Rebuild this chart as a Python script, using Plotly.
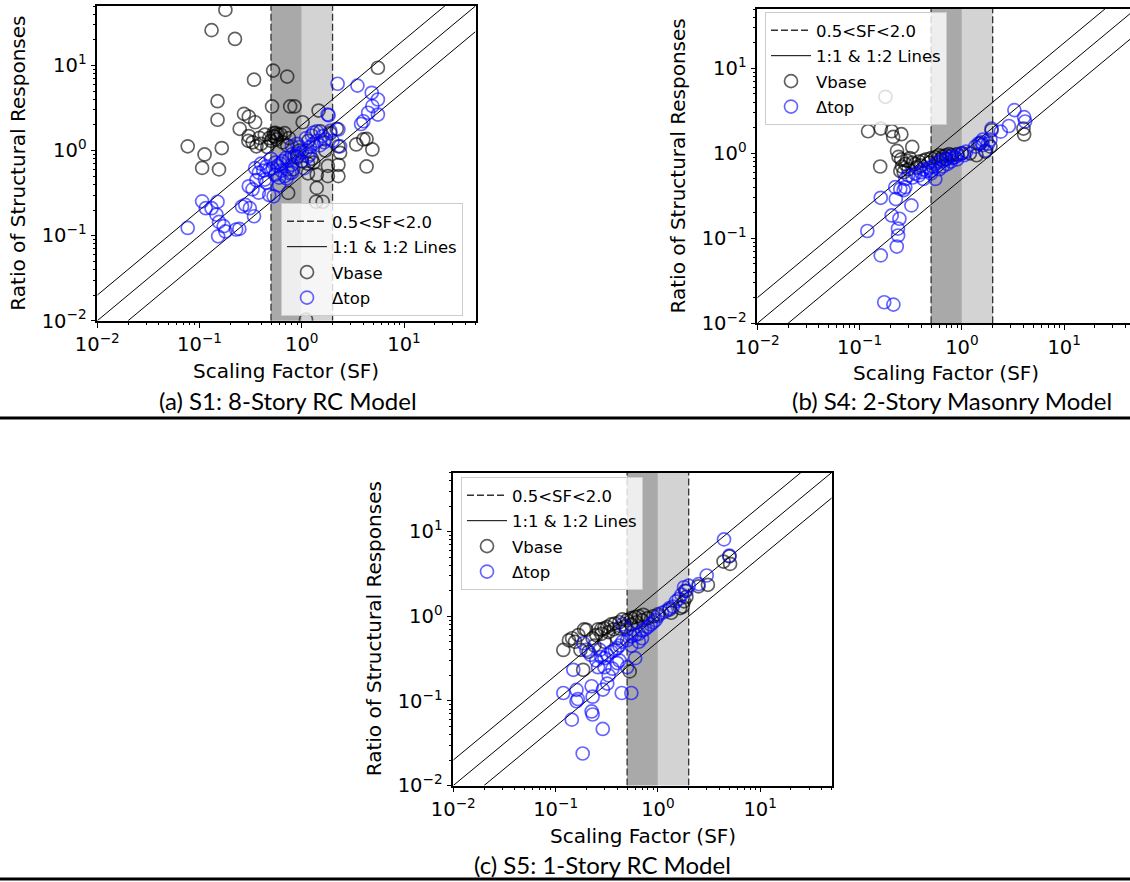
import math
import plotly.graph_objects as go

# ---------------- data ----------------
# Panel (a) S1: 8-Story RC Model
a_vbase_x = [0.179, 0.131, 0.222, 0.524, 0.341, 0.72, 5.55, 0.150, 0.150, 0.512, 0.77, 0.85, 1.46, 0.272, 0.303,
             0.35, 0.247, 1.02, 0.0766, 0.112, 0.106, 0.155, 0.165, 0.303, 0.385, 0.435, 0.53, 0.555, 0.57, 0.62,
             0.36, 0.33, 0.30, 0.50, 0.55, 0.53, 0.58, 0.48, 0.46, 0.40, 0.65, 0.72, 0.75, 0.68, 3.41, 4.0, 4.3,
             4.9, 4.3, 2.28, 2.37, 2.28, 2.28, 1.8, 1.8, 1.40, 1.15, 1.15, 1.3, 1.4, 1.38, 1.6, 0.736, 1.10, 1.16,
             1.52, 1.25, 1.0, 0.9, 0.82, 1.9, 2.2, 0.95, 1.7]
a_vbase_y = [45, 26, 20.5, 8.7, 6.8, 7.4, 9.4, 3.8, 2.3, 3.3, 3.3, 3.3, 2.95, 2.7, 2.5,
             2.15, 1.8, 2.15, 1.12, 0.90, 0.625, 0.60, 1.07, 1.48, 1.41, 1.54, 1.48, 1.61, 1.35, 1.54,
             1.12, 1.25, 1.3, 1.3, 1.45, 1.6, 1.55, 1.4, 1.1, 1.2, 1.25, 1.15, 1.4, 1.6, 1.18, 1.35, 1.37,
             1.03, 0.65, 1.12, 0.94, 0.68, 0.50, 0.66, 0.50, 0.52, 0.54, 0.70, 0.72, 0.364, 0.25, 0.25, 0.318, 0.0103, 1.3,
             1.68, 0.8, 0.75, 0.85, 0.6, 1.6, 1.8, 1.0, 1.0]
a_dtop_x = [2.24, 3.5, 4.83, 5.55, 4.9, 4.46, 5.55, 4.0, 3.8, 1.79, 2.28, 2.37, 1.40, 1.30, 1.6, 1.7, 1.65, 1.5,
            1.4, 1.3, 1.2, 1.1, 1.0, 0.95, 0.9, 0.85, 0.8, 0.75, 0.7, 0.65, 0.62, 0.58, 0.55, 0.52, 0.48, 0.45,
            0.42, 0.4, 0.38, 0.6, 0.68, 0.72, 0.8, 1.0, 1.15, 0.435, 0.36, 0.53, 0.48, 0.38, 0.33, 0.303, 0.28,
            0.31, 0.26, 0.341, 0.228, 0.245, 0.172, 0.146, 0.155, 0.106, 0.115, 0.131, 0.15, 0.152, 0.179, 0.0766,
            1.83, 0.80, 0.76, 0.71, 0.60, 0.9, 1.1, 1.25, 0.5, 0.35, 0.45, 0.55, 0.63, 2.0, 1.9, 0.8, 1.05, 1.2]
a_dtop_y = [6.1, 5.8, 4.77, 3.98, 3.33, 2.78, 2.65, 2.21, 2.05, 2.65, 1.77, 1.12, 1.68, 1.62, 1.48, 1.35, 1.25, 1.15,
            1.3, 1.2, 1.1, 1.0, 0.95, 1.1, 0.92, 0.85, 0.9, 0.78, 0.82, 0.75, 0.7, 0.66, 0.72, 0.62, 0.6, 0.65,
            0.58, 0.7, 0.55, 0.48, 0.5, 0.6, 0.55, 0.75, 0.85, 0.456, 0.45, 0.29, 0.30, 0.32, 0.35, 0.38, 0.23,
            0.21, 0.22, 0.169, 0.118, 0.12, 0.129, 0.177, 0.145, 0.253, 0.21, 0.21, 0.25, 0.098, 0.112, 0.123,
            2.6, 1.12, 0.54, 0.47, 0.39, 1.2, 1.4, 1.5, 0.8, 0.62, 0.42, 0.52, 0.58, 1.3, 1.7, 0.68, 0.62, 0.9]

# Panel (b) S4: 2-Story Masonry Model
b_vbase_x = [0.179, 0.121, 0.161, 0.206, 0.213, 0.256, 0.327, 0.232, 0.24, 0.159, 0.255, 0.29, 0.31, 0.33, 0.28,
             0.26, 0.30, 0.35, 0.38, 0.42, 0.45, 0.5, 0.55, 0.6, 0.65, 0.7, 0.75, 0.8, 0.9, 0.48, 0.4, 0.36, 0.62,
             0.7, 4.06, 4.0, 1.39, 1.69, 1.9, 1.95, 1.5, 1.2, 1.0, 0.27, 0.25]
b_vbase_y = [4.63, 1.82, 1.96, 1.82, 1.56, 1.68, 1.19, 1.07, 0.91, 0.70, 0.85, 0.82, 0.88, 0.78, 0.75,
             0.70, 0.65, 0.75, 0.80, 0.82, 0.85, 0.88, 0.9, 0.95, 0.92, 0.95, 0.98, 0.95, 0.98, 0.78, 0.72, 0.68, 0.85,
             0.86, 1.67, 1.96, 0.95, 1.05, 1.2, 1.87, 1.3, 1.0, 1.0, 0.6, 0.62]
b_dtop_x = [3.26, 4.06, 4.15, 2.88, 2.4, 1.95, 1.9, 1.6, 1.6, 1.7, 1.45, 1.35, 1.1, 1.0, 0.9, 0.85, 0.8, 0.75,
            0.7, 0.65, 0.6, 0.55, 0.52, 0.48, 0.45, 0.42, 0.4, 0.38, 0.35, 0.33, 0.3, 0.28, 0.6, 0.65, 0.72, 0.5,
            0.223, 0.25, 0.27, 0.28, 0.226, 0.321, 0.161, 0.206, 0.245, 0.237, 0.238, 0.231, 0.119, 0.161, 0.174,
            0.214, 0.55, 0.5, 0.42, 0.9, 1.05, 1.55, 1.8, 0.78]
b_dtop_y = [3.23, 2.67, 2.37, 2.1, 1.8, 1.95, 1.45, 1.45, 1.25, 1.08, 1.3, 1.2, 1.05, 1.0, 0.95, 0.9, 0.88, 0.92,
            0.85, 0.82, 0.8, 0.75, 0.7, 0.68, 0.62, 0.65, 0.6, 0.55, 0.58, 0.52, 0.55, 0.5, 0.65, 0.7, 0.75, 0.58,
            0.40, 0.38, 0.37, 0.4, 0.29, 0.244, 0.30, 0.186, 0.17, 0.13, 0.108, 0.080, 0.122, 0.063, 0.0177,
            0.0166, 0.5, 0.62, 0.5, 0.85, 0.95, 1.35, 1.3, 0.8]

# Panel (c) S5: 1-Story RC Model
c_vbase_x = [4.38, 5.08, 5.0, 3.08, 2.49, 1.85, 1.9, 1.8, 1.75, 1.65, 1.3, 1.35, 0.72, 0.65, 0.6, 0.55, 0.5,
             0.45, 0.42, 0.38, 0.35, 0.32, 0.30, 0.28, 0.26, 0.20, 0.19, 0.167, 0.145, 0.135, 0.155, 0.119, 0.175,
             0.186, 0.53, 0.23, 0.25, 0.28, 0.33, 0.37, 0.42, 0.48, 0.55, 0.62, 0.7, 0.8, 0.9, 1.0, 0.24, 0.3,
             0.4, 0.21]
c_vbase_y = [4.43, 4.16, 5.1, 2.35, 2.26, 2.0, 1.7, 1.5, 1.3, 1.25, 1.2, 1.1, 1.04, 1.0, 0.98, 0.95, 0.9,
             0.92, 0.85, 0.82, 0.8, 0.75, 0.72, 0.70, 0.70, 0.69, 0.7, 0.6, 0.55, 0.52, 0.5, 0.40, 0.40,
             0.233, 0.223, 0.55, 0.6, 0.62, 0.65, 0.7, 0.72, 0.75, 0.8, 0.85, 0.9, 0.95, 1.0, 1.05, 0.45, 0.5,
             0.55, 0.38]
c_dtop_x = [4.43, 5.0, 3.0, 2.5, 2.0, 1.9, 1.8, 1.7, 1.6, 1.5, 1.4, 1.3, 1.2, 1.1, 1.0, 0.95, 0.9, 0.85, 0.8,
            0.75, 0.7, 0.65, 0.6, 0.55, 0.5, 0.45, 0.42, 0.4, 0.38, 0.35, 0.32, 0.3, 0.28, 0.25, 0.5, 0.45, 0.55,
            0.65, 0.7, 0.187, 0.149, 0.119, 0.16, 0.16, 0.165, 0.225, 0.23, 0.225, 0.23, 0.289, 0.144, 0.184,
            0.29, 0.32, 0.33, 0.3, 0.26, 0.36, 0.4, 0.443, 0.55, 0.5, 0.6, 0.42, 0.22, 0.2, 0.27]
c_dtop_y = [8.1, 5.2, 3.03, 2.4, 2.3, 2.0, 2.2, 1.8, 1.6, 1.5, 1.3, 1.25, 1.15, 1.1, 1.0, 0.9, 0.85, 0.8, 0.75,
            0.7, 0.68, 0.62, 0.6, 0.58, 0.52, 0.5, 0.45, 0.42, 0.4, 0.38, 0.35, 0.32, 0.33, 0.3, 0.7, 0.8, 0.45,
            0.5, 0.55, 0.48, 0.233, 0.124, 0.135, 0.099, 0.105, 0.149, 0.112, 0.075, 0.069, 0.0466, 0.060, 0.0239,
            0.136, 0.16, 0.2, 0.25, 0.25, 0.24, 0.28, 0.124, 0.124, 0.25, 0.32, 0.3, 0.35, 0.4, 0.4]

sf_band = [0.5, 1.0, 2.0]
axis_min, axis_max = 0.01, 50.0
major_ticks = [0.01, 0.1, 1, 10]
major_text = ["10<sup>−2</sup>", "10<sup>−1</sup>", "10<sup>0</sup>", "10<sup>1</sup>"]
minor_ticks = [m * 10.0 ** e for e in (-2, -1, 0, 1) for m in range(2, 10) if m * 10.0 ** e <= 50]

captions = ["(a) S1: 8-Story RC Model", "(b) S4: 2-Story Masonry Model", "(c) S5: 1-Story RC Model"]
legend_names = ["0.5&lt;SF&lt;2.0", "1:1 &amp; 1:2 Lines", "Vbase", "Δtop"]

# ---------------- layout geometry ----------------
W, H = 1130, 882
panels = [
    dict(data=(a_vbase_x, a_vbase_y, a_dtop_x, a_dtop_y), xd=[97.3 / W, 475.5 / W], yd=[1 - 320.7 / H, 1 - 6 / H],
         xmax=50.0, leg=(281 / W, 1 - 203 / H), mirror_y=True, xc=286.4),
    dict(data=(b_vbase_x, b_vbase_y, b_dtop_x, b_dtop_y), xd=[757.3 / W, 1.0], yd=[1 - 323.3 / H, 1 - 9 / H],
         xmax=44.0, leg=(765 / W, 1 - 12 / H), mirror_y=False, xc=946.0),
    dict(data=(c_vbase_x, c_vbase_y, c_dtop_x, c_dtop_y), xd=[453.3 / W, 831.7 / W], yd=[1 - 785.5 / H, 1 - 472.5 / H],
         xmax=50.0, leg=(461 / W, 1 - 477 / H), mirror_y=True, xc=642.5),
]

FONT = "DejaVu Sans"
fig = go.Figure()
shapes = []
annotations = []

for i, p in enumerate(panels):
    n = "" if i == 0 else str(i + 1)
    xa, ya = "x" + n, "y" + n
    leg = "legend" + n
    vx, vy, dx, dy = p["data"]
    shapes.append(dict(type="rect", xref=xa, yref=ya + " domain", x0=sf_band[0], x1=sf_band[1], y0=0, y1=1,
                       fillcolor="#a9a9a9", line=dict(width=0), layer="below"))
    shapes.append(dict(type="rect", xref=xa, yref=ya + " domain", x0=sf_band[1], x1=sf_band[2], y0=0, y1=1,
                       fillcolor="#d3d3d3", line=dict(width=0), layer="below"))
    fig.add_trace(go.Scatter(x=[sf_band[0], sf_band[0], None, sf_band[2], sf_band[2]],
                             y=[axis_min, axis_max, None, axis_min, axis_max], mode="lines",
                             line=dict(color="#333333", width=1.3, dash="7px,3px"),
                             name=legend_names[0], legend=leg, legendgroup=f"{i}a", xaxis=xa, yaxis=ya))
    fig.add_trace(go.Scatter(x=[axis_min, axis_max, None, axis_min, axis_max, None, 2 * axis_min, axis_max],
                             y=[2 * axis_min, 2 * axis_max, None, axis_min, axis_max, None, axis_min, axis_max / 2],
                             mode="lines", line=dict(color="black", width=1),
                             name=legend_names[1], legend=leg, legendgroup=f"{i}b", xaxis=xa, yaxis=ya))
    fig.add_trace(go.Scatter(x=vx, y=vy, mode="markers", name=legend_names[2], legend=leg, legendgroup=f"{i}c",
                             marker=dict(symbol="circle-open", size=13, color="rgba(0,0,0,0.62)",
                                         line=dict(width=1.7)),
                             xaxis=xa, yaxis=ya))
    fig.add_trace(go.Scatter(x=dx, y=dy, mode="markers", name=legend_names[3], legend=leg, legendgroup=f"{i}d",
                             marker=dict(symbol="circle-open", size=13, color="rgba(0,0,255,0.6)",
                                         line=dict(width=1.7)),
                             xaxis=xa, yaxis=ya))
    common = dict(type="log", tickvals=major_ticks, ticktext=major_text, ticks="outside", ticklen=5,
                  tickwidth=1.2, tickcolor="black", showline=True, linecolor="black", linewidth=1.6,
                  showgrid=False, zeroline=False, automargin=False,
                  tickfont=dict(family=FONT, size=19.5, color="black"),
                  minor=dict(ticks="outside", ticklen=2.5, tickwidth=1, tickcolor="black",
                             tickvals=minor_ticks, showgrid=False))
    fig.layout["xaxis" + n] = dict(common, domain=p["xd"], range=[math.log10(axis_min), math.log10(p["xmax"])],
                                   anchor=ya, mirror=True)
    fig.layout["yaxis" + n] = dict(common, domain=p["yd"], range=[math.log10(axis_min), math.log10(axis_max)],
                                   anchor=xa, mirror=p["mirror_y"])
    fig.layout[leg] = dict(x=p["leg"][0], y=p["leg"][1], xanchor="left", yanchor="top",
                           bgcolor="rgba(255,255,255,0.8)", bordercolor="#cccccc", borderwidth=1,
                           font=dict(family=FONT, size=16.5, color="black"), tracegroupgap=1,
                           traceorder="grouped", itemwidth=40)
    ybot = (1 - p["yd"][0]) * H
    ytop = (1 - p["yd"][1]) * H
    annotations.append(dict(text="Scaling Factor (SF)", xref="paper", yref="paper", x=p["xc"] / W,
                            y=1 - (ybot + 50) / H, showarrow=False, xanchor="center", yanchor="middle",
                            font=dict(family=FONT, size=20, color="black")))
    annotations.append(dict(text="Ratio of Structural Responses", xref="paper", yref="paper",
                            x=(p["xd"][0] * W - 79) / W, y=1 - ((ybot + ytop) / 2) / H, textangle=-90,
                            showarrow=False, xanchor="center", yanchor="middle",
                            font=dict(family=FONT, size=20, color="black")))

cap_pos = [(287.5, 400), (952, 400), (602, 864)]
for cap, (cx, cy) in zip(captions, cap_pos):
    annotations.append(dict(text=cap, xref="paper", yref="paper", x=cx / W, y=1 - cy / H, showarrow=False,
                            xanchor="center", yanchor="middle", font=dict(family="Lato", size=24, color="black")))

for yy in (418, 879):
    shapes.append(dict(type="line", xref="paper", yref="paper", x0=0, x1=1, y0=1 - yy / H, y1=1 - yy / H,
                       line=dict(color="black", width=3)))

fig.update_layout(width=W, height=H, margin=dict(l=0, r=0, t=0, b=0, autoexpand=False), paper_bgcolor="white",
                  plot_bgcolor="rgba(0,0,0,0)", shapes=shapes, annotations=annotations, showlegend=True)
fig.write_html("out.html", config={"displayModeBar": False},
               post_script="document.body.style.margin='0';document.body.style.overflow='hidden';")
